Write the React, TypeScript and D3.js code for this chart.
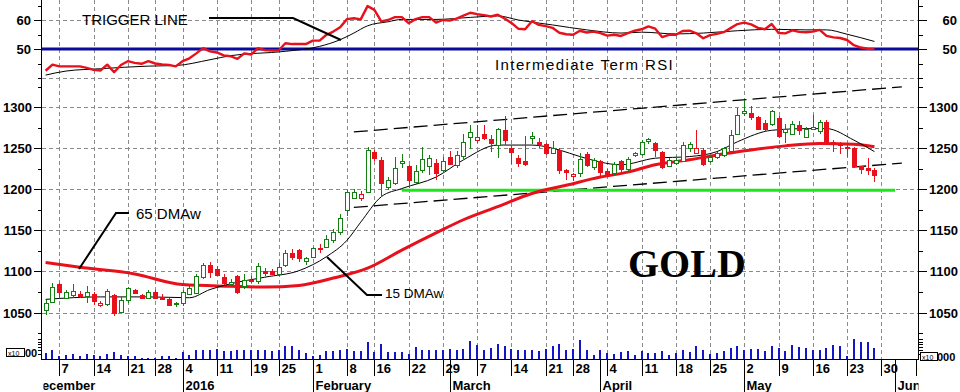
import React from "react";
import * as d3 from "d3";

// daily OHLC, Dec 3 2015 .. May 27 2016 (trading-day index 0..121)
const opens = [
  1053, 1063, 1085, 1068, 1071, 1073, 1070, 1072, 1059, 1060,
  1071, 1051, 1065, 1077, 1071, 1068, 1075, 1069, 1067, 1060,
  1061, 1073, 1074, 1093, 1108, 1103, 1093, 1085, 1094, 1082,
  1090, 1088, 1101, 1101, 1097, 1108, 1122, 1126, 1113, 1118,
  1128, 1130, 1138, 1148, 1175, 1190, 1190, 1197, 1246, 1236,
  1203, 1208, 1232, 1228, 1209, 1224, 1229, 1232, 1224, 1239,
  1230, 1241, 1264, 1260, 1268, 1261, 1254, 1272, 1250, 1238,
  1234, 1262, 1258, 1255, 1244, 1248, 1224, 1216, 1220, 1243,
  1227, 1234, 1223, 1220, 1234, 1225, 1242, 1243, 1259, 1256,
  1245, 1229, 1232, 1235, 1250, 1244, 1248, 1234, 1240, 1242,
  1247, 1268, 1293, 1293, 1288, 1281, 1280, 1287, 1270, 1268,
  1278, 1264, 1274, 1271, 1282, 1258, 1256, 1252, 1250, 1228,
  1226, 1224,
];
const highs = [
  1065, 1086, 1086, 1077, 1085, 1076, 1082, 1075, 1064, 1079,
  1072, 1069, 1081, 1079, 1073, 1077, 1077, 1072, 1068, 1063,
  1077, 1083, 1097, 1110, 1112, 1107, 1097, 1091, 1096, 1097,
  1094, 1110, 1104, 1103, 1110, 1126, 1127, 1127, 1118, 1130,
  1133, 1145, 1152, 1170, 1199, 1200, 1198, 1252, 1248, 1240,
  1215, 1240, 1243, 1230, 1230, 1252, 1242, 1237, 1239, 1247,
  1247, 1267, 1279, 1279, 1279, 1266, 1275, 1289, 1254, 1242,
  1265, 1270, 1262, 1257, 1259, 1250, 1225, 1220, 1244, 1246,
  1238, 1236, 1225, 1233, 1236, 1240, 1246, 1260, 1263, 1258,
  1247, 1238, 1239, 1258, 1258, 1272, 1250, 1242, 1246, 1252,
  1272, 1299, 1309, 1302, 1290, 1285, 1297, 1289, 1280, 1283,
  1283, 1276, 1291, 1284, 1285, 1260, 1258, 1254, 1252, 1229,
  1238, 1226,
];
const lows = [
  1047, 1061, 1068, 1066, 1068, 1068, 1062, 1059, 1057, 1058,
  1046, 1050, 1062, 1072, 1066, 1067, 1066, 1065, 1058, 1057,
  1058, 1072, 1072, 1091, 1092, 1094, 1083, 1082, 1072, 1079,
  1086, 1085, 1094, 1096, 1096, 1106, 1114, 1112, 1108, 1116,
  1122, 1128, 1135, 1145, 1168, 1188, 1186, 1196, 1234, 1191,
  1199, 1205, 1226, 1202, 1207, 1220, 1218, 1212, 1220, 1230,
  1226, 1237, 1249, 1257, 1260, 1245, 1238, 1254, 1231, 1227,
  1228, 1255, 1251, 1242, 1243, 1219, 1212, 1210, 1215, 1227,
  1224, 1214, 1216, 1217, 1219, 1222, 1240, 1241, 1255, 1240,
  1225, 1227, 1230, 1233, 1246, 1243, 1229, 1232, 1237, 1240,
  1245, 1266, 1289, 1285, 1272, 1270, 1277, 1263, 1256, 1266,
  1266, 1262, 1272, 1268, 1254, 1246, 1243, 1240, 1226, 1219,
  1218, 1209,
];
const closes = [
  1061, 1081, 1075, 1075, 1076, 1070, 1075, 1064, 1062, 1076,
  1049, 1065, 1080, 1074, 1068, 1075, 1068, 1067, 1059, 1061,
  1075, 1080, 1094, 1108, 1099, 1096, 1086, 1087, 1075, 1090,
  1089, 1107, 1098, 1097, 1106, 1122, 1118, 1116, 1116, 1128,
  1127, 1140, 1148, 1165, 1197, 1197, 1194, 1248, 1238, 1208,
  1211, 1226, 1234, 1211, 1222, 1237, 1238, 1220, 1235, 1231,
  1242, 1258, 1270, 1264, 1263, 1257, 1273, 1260, 1245, 1232,
  1231, 1265, 1255, 1244, 1250, 1224, 1221, 1219, 1237, 1230,
  1236, 1221, 1219, 1231, 1225, 1237, 1244, 1258, 1261, 1248,
  1227, 1236, 1236, 1254, 1255, 1250, 1231, 1240, 1244, 1250,
  1266, 1291, 1295, 1288, 1274, 1273, 1295, 1265, 1273, 1280,
  1272, 1274, 1276, 1282, 1256, 1255, 1254, 1250, 1228, 1225,
  1224, 1217,
];
// volume (thousands)
const volumes = [
  57, 90, 30, 40, 50, 23, 50, 40, 30, 50,
  63, 40, 30, 30, 7, 7, 7, 23, 30, 7,
  63, 40, 83, 90, 90, 97, 73, 73, 83, 83,
  83, 83, 83, 73, 90, 130, 130, 83, 57, 30,
  40, 73, 73, 83, 97, 73, 73, 163, 63, 150,
  63, 63, 63, 50, 117, 90, 90, 90, 83, 97,
  83, 97, 173, 140, 83, 107, 150, 123, 97, 83,
  90, 90, 73, 97, 123, 150, 90, 97, 183, 90,
  40, 83, 57, 50, 63, 73, 40, 73, 57, 57,
  73, 40, 57, 90, 63, 123, 90, 50, 57, 73,
  107, 123, 90, 97, 97, 73, 130, 107, 73, 140,
  117, 107, 83, 90, 107, 140, 123, 23, 197, 163,
  163, 107,
];
// intermediate term RSI
const rsi = [
  42.5, 44.6, 44, 44, 44, 44, 43.5, 42.8, 42.6, 44.6,
  42, 44.5, 45.8, 45.2, 44.9, 45.8, 45, 44.7, 44.5, 44,
  45.8, 46.8, 48.5, 50.3, 49.2, 48.8, 47.8, 47.5, 46.6, 48.5,
  48.1, 50.3, 49.6, 49.5, 49.5, 52, 51.7, 51.7, 51.7, 52.9,
  52.9, 54.9, 56, 57.5, 60.3, 60.6, 60.2, 64.8, 63.5, 59.5,
  60, 61, 61, 58.9, 60.3, 61, 61, 59.1, 60, 59.8,
  60.5, 61.5, 62.5, 62, 61.7, 61.2, 61.8, 60.5, 59, 57,
  56.8, 59.6, 58.3, 57.9, 57.3, 55.6, 55.1, 54.9, 56.3, 55.7,
  56, 55.5, 54.6, 54.9, 54.5, 55.5, 56.3, 56.8, 57.8, 57,
  54.1, 54.9, 54.9, 56.2, 56.3, 55.4, 53.7, 54.8, 55.2, 55.8,
  57.2, 58.6, 59.1, 58.5, 57.3, 56.8, 58.6, 55.5, 55.4, 56.4,
  55.9, 55.8, 56, 56.6, 54.5, 54, 53.8, 53.1, 51.3, 50.5,
  50.1, 50,
];
const triggerDays = [0, 3, 8, 15, 19, 24, 27, 35, 40, 43, 45, 47, 50, 52, 57, 62, 66, 69, 74, 79, 84, 87, 92, 96, 101, 106, 111, 114, 117, 121];
const triggerValues = [41, 42.4, 43.2, 44.1, 44.3, 46.3, 47.7, 49.2, 50.9, 53.2, 55.5, 58, 59.4, 60.2, 60.2, 60.9, 61.4, 60, 58.3, 56.6, 55.5, 55.8, 55.2, 55.5, 56.3, 56.8, 56.6, 56.6, 55.1, 52.6];

const ma65Days = [0, 5, 13, 20, 27, 32, 37, 42, 47, 52, 57, 61, 66, 71, 76, 81, 85, 89, 94, 98, 103, 108, 113, 118, 121];
const ma65Values = [1111, 1105, 1097, 1084, 1082, 1081, 1083, 1092, 1104, 1126, 1147, 1163, 1179, 1195, 1205, 1215, 1221, 1230, 1236, 1242, 1248, 1253, 1256, 1255, 1252];
const ma15Days = [0, 8, 15, 21, 24, 27, 32, 37, 41, 44, 46, 49, 52, 57, 61, 66, 71, 75, 78, 84, 89, 94, 98, 101, 106, 111, 114, 118, 121];
const ma15Values = [1066, 1069, 1069, 1068, 1078, 1085, 1093, 1101, 1118, 1138, 1160, 1191, 1201, 1215, 1236, 1254, 1254, 1248, 1240, 1230, 1238, 1240, 1246, 1258, 1272, 1274, 1274, 1260, 1246];

// trend channel [startDay, endDay], [startPrice, endPrice]
const channelDays = [45, 125];
const channelUpper = [1270, 1325];
const channelLower = [1178, 1232];
const supportDays = [52, 124];
const supportLevel = 1199;

const weekTicks = [2, 7, 12, 16, 20, 25, 30, 34, 39, 44, 48, 53, 58, 63, 68, 73, 77, 82, 87, 92, 97, 102, 107, 112, 117, 122, 127];
const weekLabels = ["7", "14", "21", "28", "4", "11", "19", "25", "1", "8", "16", "22", "29", "7", "14", "21", "28", "4", "11", "18", "25", "2", "9", "16", "23", "30", "6"];
const monthTicks = [-2, 20, 39, 59, 81, 102, 124];
const monthLabels = ["December", "2016", "February", "March", "April", "May", "Jun"];
const priceTicks = [1050, 1100, 1150, 1200, 1250, 1300];
const priceMinor = [1025, 1075, 1125, 1175, 1225, 1275, 1325];
const rsiTicks = [50, 60];
const rsiMinor = [40, 45, 55, 65];
const volTicks = [50, 90, 120, 150, 170, 200];

const L = 41.5;
const R = 918.5;
const BASE = 359.5;
const GREEN = "#137f13";
const RED = "#e8101a";
const FONT = "'Liberation Sans', Arial, sans-serif";

export default function App() {
  const x = d3.scaleLinear().domain([0, 121]).range([45.6, 45.6 + 121 * 6.85]);
  const yP = d3.scaleLinear().domain([1050, 1300]).range([312.5, 107.3]);
  const yR = d3.scaleLinear().domain([40, 60]).range([78, 20]);
  const yV = d3.scaleLinear().domain([0, 200]).range([358.5, 338.5]);
  const px = (i: number) => Math.round(x(i)) + 0.5;

  const rsiLine = d3.line<number>().x((_, i) => x(i)).y((d) => yR(d));
  const trigLine = d3.line<number>().x((_, i) => x(triggerDays[i])).y((d) => yR(d)).curve(d3.curveMonotoneX);
  const ma65Line = d3.line<number>().x((_, i) => x(ma65Days[i])).y((d) => yP(d)).curve(d3.curveMonotoneX);
  const ma15Line = d3.line<number>().x((_, i) => x(ma15Days[i])).y((d) => yP(d)).curve(d3.curveMonotoneX);

  const grid = "#8a8a8a";
  const tickFont = { fontFamily: FONT, fontWeight: 700, fontSize: 13 } as const;

  return (
    <svg width={960} height={392} style={{ position: "absolute", left: 0, top: 0, background: "#fff" }}>
      <defs>
        <clipPath id="plot">
          <rect x={L} y={0} width={R - L} height={BASE} />
        </clipPath>
        <clipPath id="axisx">
          <rect x={L + 2} y={BASE} width={R - L - 2} height={40} />
        </clipPath>
      </defs>
      <rect width={960} height={392} fill="#fff" />

      {/* grid */}
      <g stroke={grid} strokeDasharray="4,3" shapeRendering="crispEdges">
        {weekTicks.filter((t) => x(t) < R - 5).map((t) => (
          <line key={"v" + t} x1={px(t)} x2={px(t)} y1={0} y2={BASE} />
        ))}
        {priceTicks.map((p) => (
          <line key={"p" + p} x1={L} x2={R} y1={Math.round(yP(p)) + 0.5} y2={Math.round(yP(p)) + 0.5} />
        ))}
        {[60, 40].map((r) => (
          <line key={"r" + r} x1={L} x2={R} y1={Math.round(yR(r)) + 0.5} y2={Math.round(yR(r)) + 0.5} />
        ))}
      </g>

      <g clipPath="url(#plot)">
        {/* RSI panel */}
        <line x1={L} x2={R} y1={yR(50)} y2={yR(50)} stroke="#0a0a9c" strokeWidth={3} />
        <path d={trigLine(triggerValues) || ""} fill="none" stroke="#000" strokeWidth={1} />
        <path d={rsiLine(rsi) || ""} fill="none" stroke={RED} strokeWidth={2.4} strokeLinejoin="round" />

        {/* channel and support */}
        <g stroke="#000" strokeWidth={1.3} strokeDasharray="14,6" fill="none">
          <line x1={x(channelDays[0])} x2={x(channelDays[1])} y1={yP(channelUpper[0])} y2={yP(channelUpper[1])} />
          <line x1={x(channelDays[0])} x2={x(channelDays[1])} y1={yP(channelLower[0])} y2={yP(channelLower[1])} />
        </g>
        <line x1={x(supportDays[0])} x2={x(supportDays[1])} y1={yP(supportLevel)} y2={yP(supportLevel)} stroke="#1ee61e" strokeWidth={3} />

        {/* moving averages */}
        <path d={ma65Line(ma65Values) || ""} fill="none" stroke={RED} strokeWidth={3} />
        <path d={ma15Line(ma15Values) || ""} fill="none" stroke="#000" strokeWidth={1} />

        {/* candles */}
        <g shapeRendering="crispEdges">
          {closes.map((c, i) => {
            const o = opens[i];
            const prev = i === 0 ? o : closes[i - 1];
            const col = c >= prev ? GREEN : RED;
            const hollow = c > o;
            const cx = px(i);
            const top = Math.round(yP(Math.max(o, c))) + 0.5;
            const bot = Math.round(yP(Math.min(o, c))) + 0.5;
            return (
              <g key={i}>
                <line x1={cx} x2={cx} y1={yP(highs[i])} y2={yP(lows[i])} stroke={col} />
                <rect x={cx - 2} y={top} width={4} height={Math.max(bot - top, 1)} fill={hollow ? "#fff" : col} stroke={col} />
              </g>
            );
          })}
        </g>

        {/* volume */}
        <g fill="#1414c8" shapeRendering="crispEdges">
          {volumes.map((v, i) => (
            <rect key={i} x={Math.round(x(i)) - 1} y={yV(v)} width={2} height={yV(0) - yV(v)} />
          ))}
        </g>
      </g>

      {/* axes */}
      <g stroke="#000" shapeRendering="crispEdges">
        <line x1={L} x2={L} y1={0} y2={BASE} />
        <line x1={R} x2={R} y1={0} y2={BASE} />
        <line x1={L} x2={R} y1={BASE} y2={BASE} />
        {priceTicks.map((p) => (
          <g key={p}>
            <line x1={L - 8} x2={L} y1={Math.round(yP(p)) + 0.5} y2={Math.round(yP(p)) + 0.5} />
            <line x1={R} x2={R + 8} y1={Math.round(yP(p)) + 0.5} y2={Math.round(yP(p)) + 0.5} />
          </g>
        ))}
        {priceMinor.map((p) => (
          <g key={p}>
            <line x1={L - 4} x2={L} y1={Math.round(yP(p)) + 0.5} y2={Math.round(yP(p)) + 0.5} />
            <line x1={R} x2={R + 4} y1={Math.round(yP(p)) + 0.5} y2={Math.round(yP(p)) + 0.5} />
          </g>
        ))}
        {rsiTicks.map((r) => (
          <g key={r}>
            <line x1={L - 8} x2={L} y1={Math.round(yR(r)) + 0.5} y2={Math.round(yR(r)) + 0.5} />
            <line x1={R} x2={R + 8} y1={Math.round(yR(r)) + 0.5} y2={Math.round(yR(r)) + 0.5} />
          </g>
        ))}
        {rsiMinor.map((r) => (
          <g key={r}>
            <line x1={L - 4} x2={L} y1={Math.round(yR(r)) + 0.5} y2={Math.round(yR(r)) + 0.5} />
            <line x1={R} x2={R + 4} y1={Math.round(yR(r)) + 0.5} y2={Math.round(yR(r)) + 0.5} />
          </g>
        ))}
        {volTicks.map((v) => (
          <g key={v}>
            <line x1={L - 4} x2={L} y1={Math.round(yV(v)) + 0.5} y2={Math.round(yV(v)) + 0.5} />
            <line x1={R} x2={R + 4} y1={Math.round(yV(v)) + 0.5} y2={Math.round(yV(v)) + 0.5} />
          </g>
        ))}
      </g>

      <g {...tickFont} fill="#000">
        {priceTicks.map((p) => (
          <g key={p}>
            <text x={32} y={yP(p) + 5} textAnchor="end">{p}</text>
            <text x={958} y={yP(p) + 5} textAnchor="end">{p}</text>
          </g>
        ))}
        {rsiTicks.map((r) => (
          <g key={r}>
            <text x={31} y={yR(r) + 5} textAnchor="end">{r}</text>
            <text x={957} y={yR(r) + 5} textAnchor="end">{r}</text>
          </g>
        ))}
      </g>

      {/* volume multiplier boxes */}
      <g fontFamily={FONT}>
        <rect x={6.5} y={348.5} width={18} height={8} fill="#fff" stroke="#000" />
        <text x={8} y={355.5} fontSize={7}>x10</text>
        <text x={25} y={357} fontSize={11} fontWeight={700}>00</text>
        <rect x={920.5} y={352.5} width={17} height={8} fill="#fff" stroke="#000" />
        <text x={922} y={359.5} fontSize={7}>x10</text>
        <text x={937} y={361} fontSize={11} fontWeight={700}>000</text>
      </g>

      {/* date axis */}
      <g clipPath="url(#axisx)">
        <g stroke="#000" shapeRendering="crispEdges">
          {weekTicks.map((t) => (
            <line key={t} x1={px(t)} x2={px(t)} y1={BASE} y2={376} />
          ))}
          {monthTicks.map((t) => (
            <line key={t} x1={px(t)} x2={px(t)} y1={BASE} y2={392} />
          ))}
        </g>
        <g {...tickFont} fill="#000">
          {weekTicks.map((t, i) => (
            <text key={t} x={px(t) + 2} y={373}>{weekLabels[i]}</text>
          ))}
          {monthTicks.map((t, i) => (
            <text key={t} x={px(t) + (i === 0 ? 0 : 2)} y={390}>{monthLabels[i]}</text>
          ))}
        </g>
      </g>

      {/* annotations */}
      <g fontFamily={FONT} fill="#000">
        <text x={82} y={25} fontSize={15}>TRIGGER LINE</text>
        <text x={495} y={70} fontSize={15} letterSpacing={1.4}>Intermediate Term RSI</text>
        <text x={136} y={219} fontSize={15}>65 DMAw</text>
        <text x={385} y={298} fontSize={13.5}>15 DMAw</text>
        <text x={628} y={277} fontSize={40} fontWeight={700} fontFamily="'Liberation Serif', 'Times New Roman', serif">GOLD</text>
      </g>
      <g stroke="#000" strokeWidth={2} fill="none">
        <polyline points="209,18 293,18 341,40" />
        <polyline points="129,213 116,213 79,269" />
        <polyline points="382,295 367,295 327,257" />
      </g>
    </svg>
  );
}
